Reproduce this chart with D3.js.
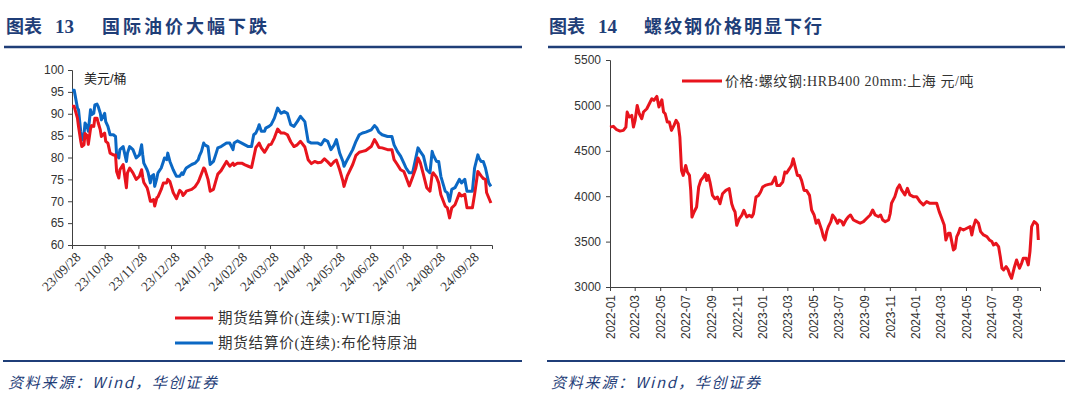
<!DOCTYPE html>
<html><head><meta charset="utf-8">
<script src="https://cdn.jsdelivr.net/npm/d3@7"></script>
<style>body{margin:0;background:#fff;}svg{display:block;}</style>
</head><body>
<svg id="c" width="1080" height="401"></svg>
<script>
// ---------- Data: chart 13 (oil) ----------
const oilDates = ["2023-09-28","2023-09-30","2023-10-03","2023-10-04","2023-10-06","2023-10-07","2023-10-09","2023-10-10","2023-10-12","2023-10-13","2023-10-15","2023-10-16","2023-10-18","2023-10-19","2023-10-21","2023-10-22","2023-10-24","2023-10-25","2023-10-28","2023-10-29","2023-10-31","2023-11-02","2023-11-05","2023-11-07","2023-11-08","2023-11-10","2023-11-11","2023-11-14","2023-11-17","2023-11-18","2023-11-20","2023-11-23","2023-11-26","2023-11-29","2023-12-01","2023-12-02","2023-12-03","2023-12-06","2023-12-07","2023-12-09","2023-12-10","2023-12-12","2023-12-13","2023-12-15","2023-12-16","2023-12-19","2023-12-21","2023-12-22","2023-12-24","2023-12-25","2023-12-27","2023-12-30","2024-01-02","2024-01-05","2024-01-07","2024-01-08","2024-01-10","2024-01-11","2024-01-16","2024-01-19","2024-01-22","2024-01-23","2024-01-25","2024-01-27","2024-01-28","2024-01-31","2024-02-02","2024-02-05","2024-02-07","2024-02-09","2024-02-12","2024-02-17","2024-02-20","2024-02-23","2024-02-24","2024-02-27","2024-03-02","2024-03-05","2024-03-08","2024-03-11","2024-03-13","2024-03-15","2024-03-17","2024-03-18","2024-03-20","2024-03-23","2024-03-24","2024-03-27","2024-03-29","2024-04-01","2024-04-04","2024-04-07","2024-04-10","2024-04-13","2024-04-16","2024-04-19","2024-04-22","2024-04-25","2024-04-29","2024-05-02","2024-05-05","2024-05-08","2024-05-11","2024-05-14","2024-05-17","2024-05-20","2024-05-23","2024-05-26","2024-05-28","2024-05-31","2024-06-03","2024-06-04","2024-06-07","2024-06-12","2024-06-15","2024-06-18","2024-06-21","2024-06-24","2024-06-29","2024-07-02","2024-07-04","2024-07-06","2024-07-09","2024-07-14","2024-07-18","2024-07-20","2024-07-23","2024-07-26","2024-07-29","2024-07-31","2024-08-03","2024-08-06","2024-08-09","2024-08-11","2024-08-13","2024-08-16","2024-08-19","2024-08-22","2024-08-24","2024-08-25","2024-08-28","2024-08-30","2024-09-01","2024-09-05","2024-09-07","2024-09-09","2024-09-11","2024-09-14","2024-09-18","2024-09-20","2024-09-23","2024-09-25","2024-09-30","2024-10-02","2024-10-05","2024-10-06","2024-10-08","2024-10-10","2024-10-12","2024-10-13","2024-10-15","2024-10-17"];
const brentValues = [95.4,95.4,91.3,90.9,86,84,85.2,87.9,87.1,86,90.9,89.8,90.1,92,92.2,91.7,90.1,88.6,90.1,88.2,87.1,85.2,85.2,84.8,80.6,79.9,81.8,82.5,79.1,81,82.5,81.8,79.9,80.6,82.9,80.6,78.7,77.2,76.5,74.2,75.7,76.1,73.4,75.3,76.5,77.6,79.1,79.9,79.5,81,79.1,77.2,75.7,75.7,76.5,76.1,77.2,77.6,78.4,78.7,79.5,80.3,81.4,83.3,82.9,82.5,78.4,79.1,80.6,82.2,82.5,83.3,83.3,81.8,83.3,83.8,83.3,82.9,82.5,82.5,85.2,85.6,86.7,87.5,86,86,86.7,87.1,87.5,89,91.3,90.1,90.5,90.1,87.5,87.1,88.2,89.4,88.2,83.7,83.3,83.3,83.3,82.9,84.1,83.7,81.8,82.9,84.1,81,79.1,78,79.5,81.8,83.7,85.2,85.6,85.8,86.3,87.3,86.8,85.8,85.2,84.8,84.8,82.9,81.4,80.3,78.7,77.6,76.5,76.5,79.9,82.2,81.4,80.3,77.2,76.5,81.4,80.6,79.1,79.1,75.7,72.3,71.9,70,72.7,73.1,75,74.2,75,72.3,72.3,77.6,80.6,79.9,79.1,79.1,77.6,76.5,74.2,73.4];
const wtiValues = [91.7,91.7,89,87.1,83.8,82.5,82.9,85.5,85,83,86.5,87.3,87.1,89,89,88,86.3,84.8,85.6,83.7,83.3,81,80.6,80.6,76.8,75.3,77.2,78.4,73.1,76.5,77.6,76.5,75,75.7,77.2,75.5,74.3,73.1,72.2,70,70,70.4,68.9,70.8,71,72.7,74.2,74.2,74.2,75,74.5,72,70.6,72.5,72,71.3,71.9,72.3,72.7,73.3,74.4,75,76.3,77.6,77.4,75,72.3,72.7,74.5,76.2,77,79.1,78,78.7,78.2,78.7,78.7,78.3,78,77.7,80,82.3,82.9,83.3,82.2,81.2,81.6,82.9,83,84.5,86.5,85.6,85.6,85.2,83.6,82.5,82.9,83.7,82.4,79.5,78.6,79.1,78.8,78.9,79.7,79,78.2,79.1,79.4,77.2,74.6,73.4,75.8,78.4,80.5,81.2,81.4,81.6,82.5,84.1,83.3,82.3,82.2,81.8,81.8,79.5,78.4,77.2,76.8,75.5,73.5,75.5,77.6,79.9,78.9,76.1,73.1,72.3,76.1,76.5,75.5,74.2,71.5,68.9,68.5,66.2,68.5,69.2,71.8,71.2,71.6,68.5,68.5,71.6,76.8,76.5,75.8,75.2,75,72,70.8,69.6];
const oilTickLabels = ["23/09/28","23/10/28","23/11/28","23/12/28","24/01/28","24/02/28","24/03/28","24/04/28","24/05/28","24/06/28","24/07/28","24/08/28","24/09/28"];
const oilYTicks = [60,65,70,75,80,85,90,95,100];
const oilSeriesNames = ["期货结算价(连续):WTI原油","期货结算价(连续):布伦特原油"];

// ---------- Data: chart 14 (rebar) ----------
const rebarDates = ["2022-01-01","2022-01-09","2022-01-17","2022-01-25","2022-02-02","2022-02-08","2022-02-11","2022-02-16","2022-02-22","2022-02-26","2022-03-02","2022-03-07","2022-03-12","2022-03-18","2022-03-22","2022-03-30","2022-04-05","2022-04-11","2022-04-16","2022-04-23","2022-04-28","2022-05-05","2022-05-09","2022-05-13","2022-05-18","2022-05-23","2022-05-28","2022-06-03","2022-06-08","2022-06-13","2022-06-17","2022-06-21","2022-06-25","2022-07-01","2022-07-05","2022-07-10","2022-07-13","2022-07-16","2022-07-21","2022-07-27","2022-08-01","2022-08-06","2022-08-12","2022-08-17","2022-08-20","2022-08-24","2022-08-28","2022-09-03","2022-09-09","2022-09-15","2022-09-21","2022-09-27","2022-10-05","2022-10-13","2022-10-19","2022-10-23","2022-10-27","2022-10-31","2022-11-06","2022-11-12","2022-11-17","2022-11-24","2022-11-30","2022-12-06","2022-12-10","2022-12-16","2022-12-22","2022-12-27","2023-01-01","2023-01-07","2023-01-15","2023-01-23","2023-01-31","2023-02-04","2023-02-11","2023-02-18","2023-02-23","2023-02-27","2023-03-06","2023-03-11","2023-03-15","2023-03-19","2023-03-25","2023-03-30","2023-04-04","2023-04-10","2023-04-16","2023-04-23","2023-04-28","2023-05-04","2023-05-09","2023-05-14","2023-05-18","2023-05-22","2023-05-26","2023-05-30","2023-06-03","2023-06-07","2023-06-13","2023-06-17","2023-06-23","2023-06-29","2023-07-03","2023-07-09","2023-07-13","2023-07-19","2023-07-25","2023-07-30","2023-08-06","2023-08-14","2023-08-22","2023-08-30","2023-09-07","2023-09-15","2023-09-21","2023-09-27","2023-10-05","2023-10-10","2023-10-15","2023-10-21","2023-10-29","2023-11-02","2023-11-05","2023-11-13","2023-11-19","2023-11-24","2023-11-29","2023-12-07","2023-12-13","2023-12-19","2023-12-27","2024-01-04","2024-01-12","2024-01-20","2024-01-28","2024-02-05","2024-02-13","2024-02-21","2024-02-27","2024-03-04","2024-03-10","2024-03-14","2024-03-20","2024-03-24","2024-03-28","2024-04-01","2024-04-05","2024-04-09","2024-04-13","2024-04-17","2024-04-25","2024-05-03","2024-05-11","2024-05-15","2024-05-19","2024-05-24","2024-05-31","2024-06-05","2024-06-12","2024-06-20","2024-06-26","2024-07-02","2024-07-06","2024-07-12","2024-07-18","2024-07-22","2024-07-26","2024-07-30","2024-08-05","2024-08-10","2024-08-14","2024-08-18","2024-08-24","2024-08-30","2024-09-06","2024-09-11","2024-09-15","2024-09-22","2024-09-27","2024-10-01","2024-10-05","2024-10-11","2024-10-16","2024-10-19","2024-10-21"];
const rebarValues = [4761,4769,4732,4717,4725,4761,4927,4872,4890,4761,4835,5000,4908,4853,4927,4963,5018,5073,5055,5099,4982,5062,4927,4908,4817,4817,4725,4780,4835,4798,4651,4284,4229,4339,4266,4229,4064,3770,3826,3881,4101,4174,4211,4248,4174,4229,4156,4009,3972,3991,3917,4027,4064,4083,3917,3862,3826,3679,3752,3789,3844,3771,3789,3771,3807,3991,4009,4046,4101,4119,4130,4138,4211,4119,4119,4156,4266,4255,4303,4339,4413,4339,4229,4229,4174,4064,4064,4009,3848,3793,3702,3738,3683,3628,3555,3518,3610,3665,3720,3793,3757,3702,3738,3720,3683,3738,3775,3793,3738,3720,3702,3720,3757,3793,3848,3793,3775,3793,3738,3720,3738,3812,3922,3995,4087,4124,4069,4014,4087,4014,3995,3995,3940,3904,3940,3922,3922,3922,3830,3757,3683,3518,3592,3592,3500,3408,3426,3555,3592,3647,3628,3647,3665,3573,3665,3738,3702,3610,3573,3555,3518,3500,3463,3481,3445,3335,3206,3188,3224,3188,3133,3096,3206,3298,3206,3261,3316,3316,3243,3390,3665,3720,3702,3683,3518];
const rebarYTicks = [3000,3500,4000,4500,5000,5500];
const rebarSeriesName = "价格:螺纹钢:HRB400 20mm:上海 元/吨";

// ---------- Texts ----------
const titles = [
  {num:"图表", n:"13", text:"国际油价大幅下跌"},
  {num:"图表", n:"14", text:"螺纹钢价格明显下行"}
];
const sourceText = "资料来源：Wind，华创证券";

const parse = d3.timeParse("%Y-%m-%d");
const svg = d3.select("#c");
const navy = "#1F3E78";
const red = "#E8141D", blue = "#0B68C4";
const axisColor = "#404040";
const cjk = "'Liberation Serif','Noto Sans CJK SC',serif";

// ---- Headers and footers ----
const panels = [{x0:4, x1:522, tx:6}, {x0:548, x1:1065, tx:549}];
panels.forEach((p,i)=>{
  const g = svg.append("g");
  g.append("text").attr("x", p.tx).attr("y", 33).attr("fill", navy)
    .attr("font-family","'Noto Sans CJK SC',sans-serif").attr("font-weight","bold").attr("font-size",18)
    .text(titles[i].num);
  g.append("text").attr("x", p.tx+49).attr("y", 33).attr("fill", navy)
    .attr("font-family","'Liberation Serif',serif").attr("font-weight","bold").attr("font-size",19)
    .text(titles[i].n);
  g.append("text").attr("x", p.tx + (i===0?96:95)).attr("y", 33).attr("fill", navy)
    .attr("font-family","'Noto Sans CJK SC',sans-serif").attr("font-weight","bold").attr("font-size",18)
    .attr("letter-spacing", i===0?3:2)
    .text(titles[i].text);
  g.append("line").attr("x1",p.x0).attr("x2",p.x1).attr("y1",47).attr("y2",47)
    .attr("stroke",navy).attr("stroke-width",2.5);
  g.append("line").attr("x1",p.x0-1).attr("x2",p.x1).attr("y1",361).attr("y2",361)
    .attr("stroke",navy).attr("stroke-width",2);
  g.append("text").attr("x", p.tx+2).attr("y", 388).attr("fill", navy)
    .attr("font-family","'Noto Sans CJK SC',sans-serif").attr("font-style","italic").attr("font-size",15)
    .attr("letter-spacing",1.8)
    .text(sourceText);
});

// ---- Chart 13 ----
{
  const x = d3.scaleTime().domain([parse("2023-09-28"), parse("2024-10-18")]).range([72, 492]);
  const y = d3.scaleLinear().domain([60,100]).range([245,70]);
  const tickDates = oilTickLabels.map(s => parse("20"+s.replace(/\//g,"-")));
  const g = svg.append("g");
  const yAxis = d3.axisLeft(y).tickValues(oilYTicks).tickSize(4).tickPadding(4);
  const ga = g.append("g").attr("transform","translate(72,0)").call(yAxis);
  ga.selectAll("text").attr("font-family","'Liberation Sans',Arial,sans-serif").attr("font-size",12).attr("fill","#333");
  const xAxis = d3.axisBottom(x).tickValues(tickDates).tickSize(4).tickFormat((d,i)=>oilTickLabels[i]);
  const gx = g.append("g").attr("transform","translate(0,245)").call(xAxis);
  gx.selectAll("text").attr("font-family","'Liberation Serif',serif").attr("font-size",13.5).attr("fill","#333")
    .attr("text-anchor","end").attr("dx",0).attr("dy",0)
    .attr("transform","translate(4,8) rotate(-45)");
  [ga, gx].forEach(a=>{a.select(".domain").attr("stroke",axisColor); a.selectAll(".tick line").attr("stroke",axisColor);});
  const brent = oilDates.map((d,i)=>({d:parse(d), v:brentValues[i]}));
  const wti = oilDates.map((d,i)=>({d:parse(d), v:wtiValues[i]}));
  const line = d3.line().x(p=>x(p.d)).y(p=>y(p.v));
  g.append("path").datum(brent).attr("d",line).attr("fill","none").attr("stroke",blue).attr("stroke-width",3).attr("stroke-linejoin","round");
  g.append("path").datum(wti).attr("d",line).attr("fill","none").attr("stroke",red).attr("stroke-width",3).attr("stroke-linejoin","round");
  g.append("text").attr("x",84).attr("y",83).attr("font-family","'Liberation Sans','Noto Sans CJK SC',sans-serif")
    .attr("font-size",13).attr("fill","#222").text("美元/桶");
  // legend
  [[red,0],[blue,1]].forEach(([c,i])=>{
    const yy = 318 + i*25;
    g.append("line").attr("x1",175).attr("x2",213).attr("y1",yy).attr("y2",yy).attr("stroke",c).attr("stroke-width",3);
    g.append("text").attr("x",218).attr("y",yy+5).attr("font-family",cjk).attr("font-size",14.5).attr("fill","#333")
      .attr("letter-spacing",0.8)
      .text(oilSeriesNames[i]);
  });
}

// ---- Chart 14 ----
{
  const x = d3.scaleTime().domain([parse("2022-01-01"), parse("2024-10-25")]).range([610, 1040]);
  const y = d3.scaleLinear().domain([3000,5500]).range([287,60]);
  const g = svg.append("g");
  const ga = g.append("g").attr("transform","translate(610,0)")
    .call(d3.axisLeft(y).tickValues(rebarYTicks).tickSize(4).tickPadding(5).tickFormat(d3.format("d")));
  ga.selectAll("text").attr("font-family","'Liberation Sans',Arial,sans-serif").attr("font-size",12).attr("fill","#333");
  const xt = d3.timeMonth.every(2).range(parse("2022-01-01"), parse("2024-10-02"));
  const gx = g.append("g").attr("transform","translate(0,287)")
    .call(d3.axisBottom(x).tickValues(xt).tickSize(4).tickFormat(d3.timeFormat("%Y-%m")));
  gx.selectAll("text").attr("font-family","'Liberation Sans',Arial,sans-serif").attr("font-size",12).attr("fill","#333")
    .attr("text-anchor","end").attr("dy","0.35em").attr("dx",0).attr("y",0)
    .attr("transform","translate(0,8) rotate(-90)");
  [ga, gx].forEach(a=>{a.select(".domain").attr("stroke",axisColor); a.selectAll(".tick line").attr("stroke",axisColor);});
  const data = rebarDates.map((d,i)=>({d:parse(d), v:rebarValues[i]}));
  g.append("path").datum(data).attr("d", d3.line().x(p=>x(p.d)).y(p=>y(p.v)))
    .attr("fill","none").attr("stroke",red).attr("stroke-width",3).attr("stroke-linejoin","round");
  g.append("line").attr("x1",682).attr("x2",722).attr("y1",81).attr("y2",81).attr("stroke",red).attr("stroke-width",3);
  g.append("text").attr("x",725).attr("y",86).attr("font-family",cjk).attr("font-size",14).attr("fill","#333")
    .attr("letter-spacing",0.6)
    .text(rebarSeriesName);
}
</script>
</body></html>
